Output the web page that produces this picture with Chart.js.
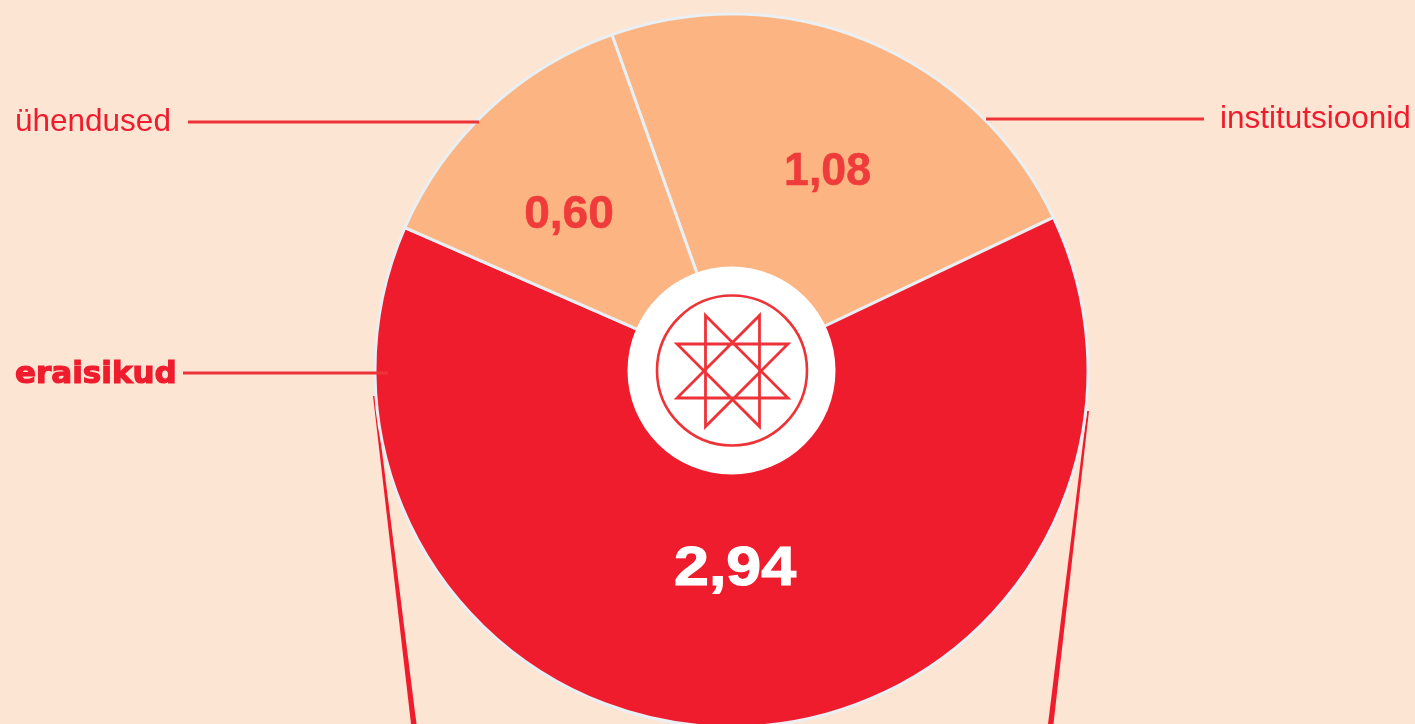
<!DOCTYPE html>
<html lang="et">
<head>
<meta charset="utf-8">
<title>Annetajad</title>
<style>
html, body { margin: 0; padding: 0; background: #fde5d3; overflow: hidden; }
canvas { display: block; }
</style>
<script src="https://cdn.jsdelivr.net/npm/chart.js@4"></script>
</head>
<body>
<canvas id="graafik" width="1415" height="724"></canvas>
<script>
const kategooriad = ['institutsioonid', 'eraisikud', 'ühendused'];
const vaartused = [1.08, 2.94, 0.60];
const varvid = ['#fbb482', '#ef1c2e', '#fbb482'];
const vaartuseVarvid = ['#ef3b39', '#ffffff', '#ef3b39'];
const vaartuseFondid = [47, 56, 47];
const vaartuseLaiused = [0.95, 1.12, 0.98];
const vaartuseKontuurid = [0.6, 1.2, 0.6];
const vaartuseNihked = [[8.5, 13], [0, -30], [-6.5, 12]];

const PUNANE = '#ef1c2e';
const JOON = '#ee3338';

// silt + juhtjoon: x, y teksti jaoks, joon x1..x2 korgusel jy
const sildid = [
    { indeks: 0, tx: 1220, ty: 119, font: '31.5px "Liberation Sans"', x1: 986, x2: 1204, jy: 119, paks: false },
    { indeks: 1, tx: 15, ty: 374.5, font: 'bold 31px "DejaVu Sans"', x1: 183, x2: 388, jy: 373, paks: true },
    { indeks: 2, tx: 15, ty: 122, font: '31.5px "Liberation Sans"', x1: 188, x2: 479, jy: 122, paks: false }
];

function kiil(ctx, x1, y1, x2, y2, ylal, all) {
    ctx.fillStyle = PUNANE;
    ctx.beginPath();
    ctx.moveTo(x1 - ylal / 2, y1);
    ctx.lineTo(x1 + ylal / 2, y1);
    ctx.lineTo(x2 + all / 2, y2);
    ctx.lineTo(x2 - all / 2, y2);
    ctx.closePath();
    ctx.fill();
}

function tahtAndKeskkoht(ctx, cx, cy) {
    ctx.fillStyle = '#ffffff';
    ctx.beginPath();
    ctx.arc(cx, cy, 104, 0, Math.PI * 2);
    ctx.fill();

    ctx.strokeStyle = JOON;
    ctx.lineWidth = 2.6;
    ctx.beginPath();
    ctx.arc(cx + 0.5, cy, 75, 0, Math.PI * 2);
    ctx.stroke();

    // kaheksakand
    const a = 27, b = 55.5, sx = cx + 1, sy = cy + 0.5;
    const tipud = [[-a, -b], [a, -b], [b, -a], [b, a], [a, b], [-a, b], [-b, a], [-b, -a]];
    ctx.lineJoin = 'miter';
    ctx.lineWidth = 2.8;
    ctx.beginPath();
    let i = 0;
    for (let n = 0; n < 8; n++) {
        const t = tipud[i];
        if (n === 0) ctx.moveTo(sx + t[0], sy + t[1]);
        else ctx.lineTo(sx + t[0], sy + t[1]);
        i = (i + 3) % 8;
    }
    ctx.closePath();
    ctx.stroke();
}

const kujundus = {
    id: 'kujundus',
    beforeDatasetsDraw(chart) {
        const ctx = chart.ctx;
        ctx.save();
        kiil(ctx, 374, 396, 414, 726, 2, 5.5);
        kiil(ctx, 1088, 411, 1050.5, 726, 2, 5.5);
        ctx.restore();
    },
    afterDatasetsDraw(chart) {
        const ctx = chart.ctx;
        const kaared = chart.getDatasetMeta(0).data;
        const cx = kaared[0].x;
        const cy = kaared[0].y;
        ctx.save();
        tahtAndKeskkoht(ctx, cx, cy);

        ctx.textBaseline = 'middle';
        ctx.textAlign = 'center';
        kaared.forEach((kaar, i) => {
            const p = kaar.getCenterPoint();
            const tekst = vaartused[i].toFixed(2).replace('.', ',');
            ctx.save();
            ctx.translate(p.x + vaartuseNihked[i][0], p.y + vaartuseNihked[i][1]);
            ctx.scale(vaartuseLaiused[i], 1);
            ctx.font = 'bold ' + vaartuseFondid[i] + 'px "Liberation Sans"';
            ctx.fillStyle = vaartuseVarvid[i];
            ctx.fillText(tekst, 0, 0);
            ctx.strokeStyle = vaartuseVarvid[i];
            ctx.lineWidth = vaartuseKontuurid[i];
            ctx.strokeText(tekst, 0, 0);
            ctx.restore();
        });

        ctx.textAlign = 'left';
        sildid.forEach(s => {
            ctx.strokeStyle = JOON;
            ctx.lineWidth = 2.8;
            ctx.beginPath();
            ctx.moveTo(s.x1, s.jy);
            ctx.lineTo(s.x2, s.jy);
            ctx.stroke();
            ctx.font = s.font;
            ctx.fillStyle = PUNANE;
            ctx.fillText(kategooriad[s.indeks], s.tx, s.ty);
            if (s.paks) {
                ctx.strokeStyle = PUNANE;
                ctx.lineWidth = 1.2;
                ctx.strokeText(kategooriad[s.indeks], s.tx, s.ty);
            }
        });
        ctx.restore();
    }
};

new Chart(document.getElementById('graafik').getContext('2d'), {
    type: 'doughnut',
    data: {
        labels: kategooriad,
        datasets: [{
            data: vaartused,
            backgroundColor: varvid,
            borderColor: '#e9eff2',
            borderWidth: 3,
            clip: false,
            radius: 356.5,
            cutout: 100
        }]
    },
    options: {
        responsive: false,
        animation: false,
        rotation: -19.6,
        layout: { padding: { left: 48, right: 0, top: 17, bottom: 0 } },
        plugins: {
            legend: { display: false },
            tooltip: { enabled: false },
            title: { display: false }
        }
    },
    plugins: [kujundus]
});
</script>
</body>
</html>
